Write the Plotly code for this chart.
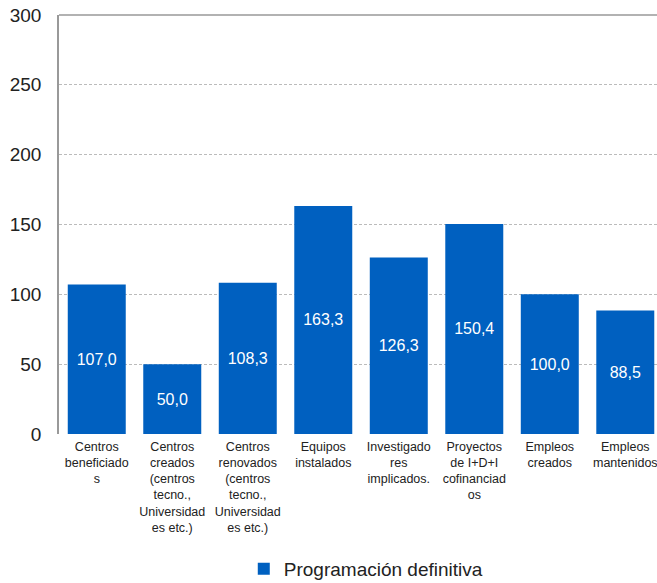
import plotly.graph_objects as go

categories = [
    "Centros<br>beneficiado<br>s",
    "Centros<br>creados<br>(centros<br>tecno.,<br>Universidad<br>es etc.)",
    "Centros<br>renovados<br>(centros<br>tecno.,<br>Universidad<br>es etc.)",
    "Equipos<br>instalados",
    "Investigado<br>res<br>implicados.",
    "Proyectos<br>de I+D+I<br>cofinanciad<br>os",
    "Empleos<br>creados",
    "Empleos<br>mantenidos",
]
values = [107.0, 50.0, 108.3, 163.3, 126.3, 150.4, 100.0, 88.5]
series_name = "Programación definitiva"
y_ticks = [0, 50, 100, 150, 200, 250, 300]

labels = [f"{v:.1f}".replace(".", ",") for v in values]

FONT = "Liberation Sans, Arial, sans-serif"
BLUE = "#0060C0"

fig = go.Figure(
    go.Bar(
        x=categories,
        y=values,
        name=series_name,
        marker=dict(color=BLUE, line=dict(width=0)),
        text=labels,
        textposition="inside",
        insidetextanchor="middle",
        textfont=dict(color="white", size=16, family=FONT),
        showlegend=True,
    )
)

fig.update_layout(
    width=657,
    height=583,
    margin=dict(l=59, r=0, t=15, b=149, autoexpand=False),
    paper_bgcolor="white",
    plot_bgcolor="white",
    font=dict(family=FONT, color="#222222"),
    bargap=0.232,
    showlegend=True,
    legend=dict(
        orientation="h",
        x=0.513,
        xanchor="center",
        y=-0.322,
        yanchor="middle",
        font=dict(size=19, family=FONT, color="#222222"),
        itemwidth=30,
    ),
    xaxis=dict(
        automargin=False,
        range=[-0.5, 7.42],
        showline=False,
        showgrid=False,
        ticks="",
        tickfont=dict(size=12.5, family=FONT, color="#222222"),
        tickangle=0,
        ticklabelstandoff=3,
    ),
    yaxis=dict(
        automargin=False,
        range=[0, 300],
        tickvals=y_ticks,
        showline=True,
        linecolor="#999999",
        linewidth=1.5,
        showgrid=True,
        gridcolor="#BBBBBB",
        griddash="3px,2px",
        gridwidth=1,
        zeroline=False,
        ticks="",
        tickfont=dict(size=19, family=FONT, color="#222222"),
        ticklabelstandoff=12,
    ),
    shapes=[
        dict(type="line", xref="paper", yref="paper", x0=0, x1=1, y0=1, y1=1,
             line=dict(color="#999999", width=1.5)),
    ],
)

fig.write_html(
    "out.html",
    config={"displayModeBar": False},
    post_script="document.body.style.margin='0';document.body.style.overflow='hidden';",
)
